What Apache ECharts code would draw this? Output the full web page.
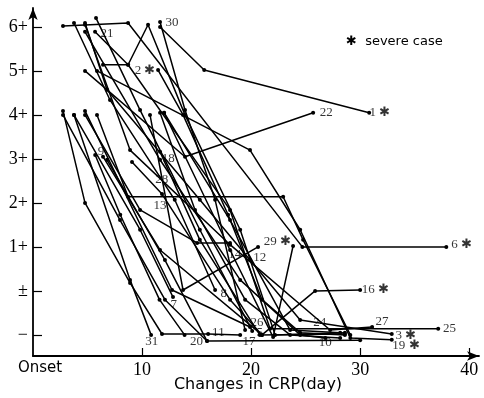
<!DOCTYPE html>
<html>
<head>
<meta charset="utf-8">
<script src="https://cdn.jsdelivr.net/npm/echarts@6/dist/echarts.min.js"></script>
<style>
  html, body { margin: 0; padding: 0; background: #fff; }
  #chart { width: 484px; height: 398px; }
</style>
</head>
<body>
<div id="chart"></div>
<script>
// grade scale: 0 = −, 1 = ±, 2 = 1+, ... 7 = 6+
const yTickLabels = ['−', '±', '1+', '2+', '3+', '4+', '5+', '6+'];
const xTickValues = [0, 10, 20, 30, 40];

// CRP course of each case: [day, grade]
const case1 = [[11.65, 7.0], [15.7, 6.02], [30.83, 5.05]];
const case2 = [[11.47, 6.02], [13.76, 5.0], [17.89, 2.73], [21.0, 0.8], [24.5, 0.05], [28.6, 0]];
const case3 = [[4.77, 7.09], [6.79, 5.57], [15.3, 3.07], [19.9, 1.7], [24.5, 0.34], [32.9, 0.02]];
const case5 = [[5.78, 7.2], [9.82, 5.11], [15.3, 2.39], [20.1, 0.09]];
const case6 = [[2.75, 7.02], [8.72, 7.09], [24.7, 2.0], [37.9, 2.0]];
const case7 = [[3.76, 5.0], [9.82, 2.39], [12.84, 0.86]];
const case8 = [[3.76, 7.09], [7.06, 5.34], [13.0, 3.07], [16.7, 1.02]];
const case9 = [[5.7, 4.09], [8.0, 2.73], [11.6, 0.8], [13.9, 0]];
const case10 = [[4.77, 6.89], [11.65, 3.98], [19.0, 1.25], [24.5, 0], [26.8, -0.07]];
const case11 = [[2.75, 5.09], [4.77, 3.0], [8.9, 1.18], [11.83, 0.02], [16.06, 0.02], [19.0, 0]];
const case12 = [[10.73, 5.0], [13.76, 1.02], [20.64, 2.0]];
const case13 = [[5.87, 5.0], [8.72, 3.14], [22.94, 3.14], [24.77, 2.16], [29.1, 0]];
const case14 = [[4.77, 5.0], [9.82, 2.84], [15.05, 2.09], [18.07, 2.09]];
const case15 = [[11.65, 5.05], [14.86, 2.84], [19.45, 0.8], [23.58, 0], [28.17, -0.07]];
const case16 = [[6.42, 4.05], [11.65, 1.93], [21.0, 0], [25.87, 1.0], [30.0, 1.02]];
const case17 = [[6.79, 3.98], [12.1, 1.7], [15.96, -0.14], [30.0, -0.12]];
const case18 = [[11.65, 4.16], [15.3, 2.16], [20.8, 0], [28.6, 0.02]];
const case19 = [[5.87, 6.0], [19.9, 4.2], [24.5, 2.39], [29.1, -0.07], [32.9, -0.11]];
const case20 = [[2.75, 5.0], [7.98, 2.61], [12.1, 0.8], [15.96, -0.14]];
const case21 = [[5.69, 6.89], [8.72, 6.14], [10.55, 7.05], [13.94, 5.0], [19.0, 2.39], [22.2, 0], [28.6, 0.05]];
const case22 = [[4.77, 6.0], [13.94, 4.05], [25.69, 5.05]];
const case24 = [[12.02, 5.05], [18.07, 2.61], [23.58, 0.11], [28.17, 0.05]];
const case25 = [[6.42, 6.14], [8.72, 6.14], [18.07, 2.84], [21.74, 0.14], [37.16, 0.14]];
const case26 = [[4.77, 5.09], [12.75, 1.02], [19.9, 0.18]];
const case27 = [[4.77, 7.05], [8.9, 4.2], [18.07, 2.05], [27.25, 0.11], [31.1, 0.18]];
const case28 = [[9.08, 3.93], [11.83, 3.2], [18.07, 0.8], [21.0, 0]];
const case29 = [[12.02, 5.05], [18.07, 1.93], [22.02, -0.05], [23.85, 2.02]];
const case30 = [[11.65, 7.11], [13.94, 5.11], [16.7, 3.07], [19.45, 0.11]];
const case31 = [[3.76, 5.0], [8.9, 1.25], [10.83, 0]];

const cases = [case1, case2, case3, case5, case6, case7, case8, case9, case10, case11,
  case12, case13, case14, case15, case16, case17, case18, case19, case20, case21,
  case22, case24, case25, case26, case27, case28, case29, case30, case31];

// case numbers written beside the lines (✱ = severe case)
const labelTexts = ['30', '21', '2 ✱', '22', '1 ✱', '18', '9', '28', '13', '14', '12', '29 ✱',
  '6 ✱', '16 ✱', '8', '7', '26', '5', '24', '27', '25', '3 ✱', '19 ✱', '10', '17', '20', '11', '31'];
const labelDays = [12.75, 6.79, 10.28, 26.9, 31.8, 12.4, 6.24, 11.8, 11.65, 18.5, 20.8, 22.4,
  39.3, 31.4, 17.5, 12.9, 20.55, 20.8, 26.3, 32.0, 38.2, 34.2, 34.2, 26.8, 19.8, 15.0, 17.0, 10.9];
const labelGrades = [7.11, 6.84, 6.0, 5.05, 5.05, 4.0, 4.16, 3.52, 2.95, 1.82, 1.75, 2.11,
  2.05, 1.02, 0.95, 0.68, 0.27, 0.05, 0.27, 0.3, 0.14, -0.02, -0.25, -0.18, -0.16, -0.16, 0.05, -0.16];

const serif = '"Liberation Serif", "DejaVu Serif", serif';
const sans = '"DejaVu Sans", sans-serif';

const chart = echarts.init(document.getElementById('chart'), null, { renderer: 'canvas' });

const lineSeries = cases.map((c) => ({
  type: 'line',
  data: c,
  symbol: 'circle',
  symbolSize: 4,
  lineStyle: { color: '#000', width: 1.5 },
  itemStyle: { color: '#000' },
  emphasis: { disabled: true },
  z: 2,
}));

chart.setOption({
  animation: false,
  backgroundColor: '#fff',
  grid: { left: 33, right: 5, top: 8, bottom: 42 },
  xAxis: {
    type: 'value',
    min: 0,
    max: 40.9,
    axisLine: {
      onZero: false,
      symbol: ['none', 'arrow'],
      symbolSize: [7, 12],
      lineStyle: { color: '#000', width: 1.8 },
    },
    axisTick: {
      inside: true,
      length: 8,
      customValues: [10, 20, 30, 40],
      lineStyle: { color: '#000', width: 1.2 },
    },
    axisLabel: {
      customValues: xTickValues,
      margin: 5,
      color: '#000',
      fontFamily: serif,
      fontSize: 18,
      formatter: (v) => (v === 0 ? '{o|Onset}' : String(v)),
      rich: { o: { fontFamily: sans, fontSize: 15, color: '#000', padding: [0, 0, 0, 14] } },
    },
    splitLine: { show: false },
  },
  yAxis: {
    type: 'value',
    min: -0.48,
    max: 7.43,
    axisLine: {
      onZero: false,
      symbol: ['none', 'arrow'],
      symbolSize: [7, 12],
      lineStyle: { color: '#000', width: 1.8 },
    },
    axisTick: {
      inside: true,
      length: 9,
      customValues: [0, 1, 2, 3, 4, 5, 6, 7],
      lineStyle: { color: '#000', width: 1.2 },
    },
    axisLabel: {
      customValues: [0, 1, 2, 3, 4, 5, 6, 7],
      margin: 5,
      color: '#000',
      fontFamily: serif,
      fontSize: 18,
      formatter: (v) => yTickLabels[Math.round(v)],
    },
    splitLine: { show: false },
  },
  series: [
    ...lineSeries,
    {
      type: 'scatter',
      symbolSize: 0,
      z: 3,
      data: labelTexts.map((t, i) => ({ name: t, value: [labelDays[i], labelGrades[i]] })),
      label: {
        show: true,
        position: 'inside',
        formatter: (p) => p.name,
        color: '#000',
        fontFamily: serif,
        fontSize: 13,
      },
      emphasis: { disabled: true },
    },
  ],
  graphic: [
    {
      type: 'text',
      left: 346,
      top: 35,
      style: { text: '✱  severe case', font: '13px ' + sans, fill: '#000' },
    },
    {
      type: 'text',
      x: 258,
      y: 385,
      style: { text: 'Changes in CRP(day)', font: '16px ' + sans, fill: '#000', align: 'center', verticalAlign: 'middle' },
    },
  ],
});
</script>
</body>
</html>
